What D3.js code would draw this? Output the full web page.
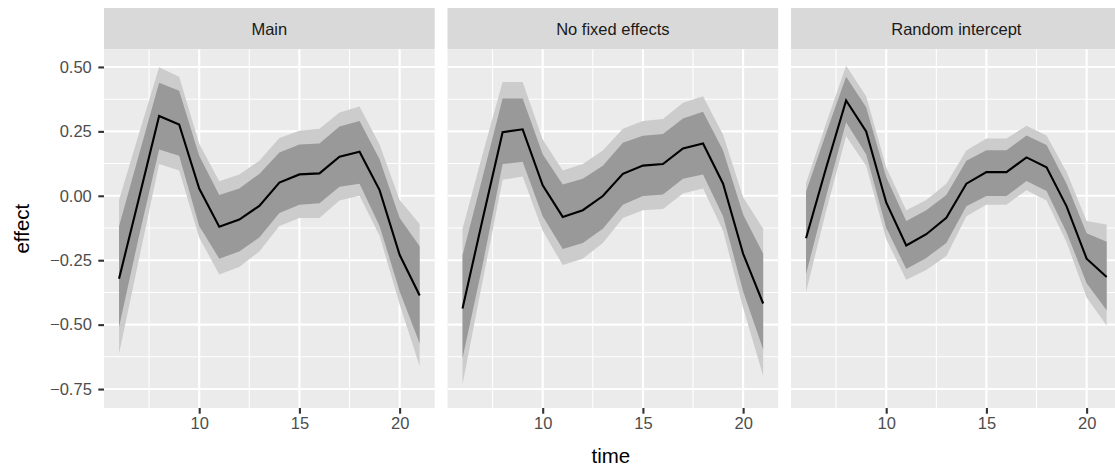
<!DOCTYPE html>
<html>
<head>
<meta charset="utf-8">
<script src="https://cdn.jsdelivr.net/npm/d3@7"></script>
<style>
	body { margin: 0; background: #fff; }
	svg { display: block; overflow: hidden; }
</style>
</head>
<body>
<div id="chart"></div>
<script>
// time points shared by all panels
var times = [6, 7, 8, 9, 10, 11, 12, 13, 14, 15, 16, 17, 18, 19, 20, 21];

var facets = ['Main', 'No fixed effects', 'Random intercept'];

// Main
var mainFit     = [-0.322, -0.008, 0.310, 0.277, 0.028, -0.120, -0.092, -0.039, 0.051, 0.083, 0.087, 0.152, 0.171, 0.022, -0.229, -0.387];
var mainInnerHi = [-0.118, 0.161, 0.439, 0.408, 0.155, 0.003, 0.028, 0.085, 0.168, 0.199, 0.203, 0.269, 0.290, 0.142, -0.086, -0.196];
var mainInnerLo = [-0.509, -0.155, 0.180, 0.155, -0.117, -0.244, -0.216, -0.162, -0.067, -0.035, -0.029, 0.035, 0.047, -0.117, -0.370, -0.573];
var mainOuterHi = [-0.016, 0.243, 0.499, 0.462, 0.202, 0.056, 0.083, 0.136, 0.224, 0.252, 0.260, 0.323, 0.347, 0.199, -0.016, -0.109];
var mainOuterLo = [-0.613, -0.244, 0.123, 0.098, -0.162, -0.305, -0.276, -0.216, -0.117, -0.086, -0.086, -0.018, 0.000, -0.155, -0.421, -0.661];

// No fixed effects
var nfeFit     = [-0.437, -0.092, 0.247, 0.258, 0.041, -0.082, -0.056, -0.001, 0.085, 0.117, 0.123, 0.184, 0.203, 0.047, -0.225, -0.418];
var nfeInnerHi = [-0.231, 0.072, 0.378, 0.378, 0.161, 0.044, 0.066, 0.117, 0.206, 0.233, 0.240, 0.300, 0.326, 0.176, -0.073, -0.225];
var nfeInnerLo = [-0.630, -0.269, 0.123, 0.132, -0.079, -0.206, -0.183, -0.128, -0.035, -0.001, 0.005, 0.066, 0.083, -0.079, -0.370, -0.596];
var nfeOuterHi = [-0.128, 0.161, 0.442, 0.442, 0.218, 0.098, 0.123, 0.176, 0.260, 0.290, 0.298, 0.361, 0.386, 0.237, -0.006, -0.128];
var nfeOuterLo = [-0.731, -0.332, 0.062, 0.075, -0.136, -0.269, -0.244, -0.183, -0.086, -0.056, -0.051, 0.009, 0.028, -0.136, -0.434, -0.699];

// Random intercept
var riFit     = [-0.165, 0.108, 0.370, 0.250, -0.026, -0.193, -0.149, -0.085, 0.047, 0.092, 0.092, 0.149, 0.111, -0.041, -0.244, -0.315];
var riInnerHi = [0.016, 0.243, 0.462, 0.344, 0.073, -0.098, -0.056, 0.003, 0.136, 0.177, 0.177, 0.234, 0.197, 0.047, -0.145, -0.178];
var riInnerLo = [-0.304, -0.003, 0.285, 0.161, -0.124, -0.284, -0.241, -0.183, -0.041, -0.001, -0.001, 0.057, 0.019, -0.142, -0.339, -0.444];
var riOuterHi = [0.050, 0.281, 0.505, 0.386, 0.111, -0.056, -0.016, 0.047, 0.176, 0.222, 0.222, 0.272, 0.234, 0.092, -0.098, -0.111];
var riOuterLo = [-0.373, -0.060, 0.231, 0.117, -0.168, -0.326, -0.288, -0.234, -0.079, -0.035, -0.035, 0.022, -0.018, -0.180, -0.395, -0.503];

var xTicks = [10, 15, 20];
var xMinor = [7.5, 12.5, 17.5];
var yTicks = [-0.75, -0.5, -0.25, 0, 0.25, 0.5];
var yMinor = [-0.625, -0.375, -0.125, 0.125, 0.375];
var yTickLabels = ['\u22120.75', '\u22120.50', '\u22120.25', '0.00', '0.25', '0.50'];

var panelData = [
	{fit: mainFit, innerHi: mainInnerHi, innerLo: mainInnerLo, outerHi: mainOuterHi, outerLo: mainOuterLo},
	{fit: nfeFit,  innerHi: nfeInnerHi,  innerLo: nfeInnerLo,  outerHi: nfeOuterHi,  outerLo: nfeOuterLo},
	{fit: riFit,   innerHi: riInnerHi,   innerLo: riInnerLo,   outerHi: riOuterHi,   outerLo: riOuterLo}
];

function FacetChart(config) {
	var me = this;
	me.width  = config.width;
	me.height = config.height;
	me.parentNode = d3.select('#' + config.parentId);

	// layout
	me.panelLeft  = 104;
	me.panelWidth = 330.7;
	me.panelStep  = 343.5;
	me.stripTop   = 8;
	me.panelTop   = 49.3;
	me.panelBot   = 408;

	me.font      = '"Liberation Sans", Arial, Helvetica, sans-serif';
	me.textSize  = '16.5px';
	me.titleSize = '20.5px';
	me.majorW    = 2.1;
	me.minorW    = 1.05;

	me.svg = me.parentNode.append('svg')
		.attr('width', me.width)
		.attr('height', me.height);

	me.xScale = d3.scaleLinear()
		.domain([5.25, 21.75])
		.range([0, me.panelWidth]);
	me.yScale = d3.scaleLinear()
		.domain([-0.8235, 0.5685])
		.range([me.panelBot, me.panelTop]);

	me.draw();
}

FacetChart.prototype.draw = function() {
	var me = this;
	facets.forEach(function(name, i) {
		me.drawPanel(name, panelData[i], me.panelLeft + i * me.panelStep);
	});
	me.drawYAxis();

	// axis titles
	me.svg.append('text')
		.attr('x', me.panelLeft + (me.panelStep * 2 + me.panelWidth) / 2 - 2)
		.attr('y', 462.5)
		.attr('text-anchor', 'middle')
		.style('font-family', me.font)
		.style('font-size', me.titleSize)
		.attr('fill', '#000')
		.text('time');

	me.svg.append('text')
		.attr('transform', 'translate(29,' + ((me.panelTop + me.panelBot) / 2) + ') rotate(-90)')
		.attr('text-anchor', 'middle')
		.style('font-family', me.font)
		.style('font-size', me.titleSize)
		.attr('fill', '#000')
		.text('effect');
}

FacetChart.prototype.drawPanel = function(name, d, left) {
	var me = this;
	var g = me.svg.append('g')
		.attr('transform', 'translate(' + left + ',0)');

	// strip
	g.append('rect')
		.attr('x', 0).attr('y', me.stripTop)
		.attr('width', me.panelWidth)
		.attr('height', me.panelTop - me.stripTop)
		.attr('fill', '#D9D9D9');
	g.append('text')
		.attr('x', me.panelWidth / 2)
		.attr('y', 34.8)
		.attr('text-anchor', 'middle')
		.style('font-family', me.font)
		.style('font-size', me.textSize)
		.attr('fill', '#1A1A1A')
		.text(name);

	// background
	g.append('rect')
		.attr('x', 0).attr('y', me.panelTop)
		.attr('width', me.panelWidth)
		.attr('height', me.panelBot - me.panelTop)
		.attr('fill', '#EBEBEB');

	// grid
	var grid = g.append('g').attr('class', 'grid');
	grid.selectAll('line.ymin').data(yMinor).enter().append('line')
		.attr('x1', 0).attr('x2', me.panelWidth)
		.attr('y1', function(v) { return me.yScale(v); })
		.attr('y2', function(v) { return me.yScale(v); })
		.attr('stroke', '#fff').attr('stroke-width', me.minorW);
	grid.selectAll('line.xmin').data(xMinor).enter().append('line')
		.attr('y1', me.panelTop).attr('y2', me.panelBot)
		.attr('x1', function(v) { return me.xScale(v); })
		.attr('x2', function(v) { return me.xScale(v); })
		.attr('stroke', '#fff').attr('stroke-width', me.minorW);
	grid.selectAll('line.ymaj').data(yTicks).enter().append('line')
		.attr('x1', 0).attr('x2', me.panelWidth)
		.attr('y1', function(v) { return me.yScale(v); })
		.attr('y2', function(v) { return me.yScale(v); })
		.attr('stroke', '#fff').attr('stroke-width', me.majorW);
	grid.selectAll('line.xmaj').data(xTicks).enter().append('line')
		.attr('y1', me.panelTop).attr('y2', me.panelBot)
		.attr('x1', function(v) { return me.xScale(v); })
		.attr('x2', function(v) { return me.xScale(v); })
		.attr('stroke', '#fff').attr('stroke-width', me.majorW);

	// ribbons
	var band = function(lo, hi) {
		return d3.area()
			.x(function(t) { return me.xScale(t); })
			.y0(function(t, i) { return me.yScale(lo[i]); })
			.y1(function(t, i) { return me.yScale(hi[i]); });
	};
	g.append('path')
		.attr('d', band(d.outerLo, d.outerHi)(times))
		.attr('fill', '#CCCCCC');
	g.append('path')
		.attr('d', band(d.innerLo, d.innerHi)(times))
		.attr('fill', '#999999');

	var line = d3.line()
		.x(function(t) { return me.xScale(t); })
		.y(function(t, i) { return me.yScale(d.fit[i]); });
	g.append('path')
		.attr('d', line(times))
		.attr('fill', 'none')
		.attr('stroke', '#000')
		.attr('stroke-width', 2.1);

	// x axis
	var xAxis = d3.axisBottom(me.xScale)
		.tickValues(xTicks)
		.tickSize(5.7)
		.tickPadding(4);
	var ax = g.append('g')
		.attr('transform', 'translate(0,' + me.panelBot + ')')
		.call(xAxis);
	ax.select('.domain').remove();
	ax.selectAll('.tick line').attr('stroke', '#333333').attr('stroke-width', me.majorW);
	ax.selectAll('.tick text')
		.style('font-family', me.font)
		.style('font-size', me.textSize)
		.attr('fill', '#4D4D4D');
}

FacetChart.prototype.drawYAxis = function() {
	var me = this;
	var yAxis = d3.axisLeft(me.yScale)
		.tickValues(yTicks)
		.tickFormat(function(v, i) { return yTickLabels[i]; })
		.tickSize(5.7)
		.tickPadding(6.5);
	var ay = me.svg.append('g')
		.attr('transform', 'translate(' + me.panelLeft + ',0)')
		.call(yAxis);
	ay.select('.domain').remove();
	ay.selectAll('.tick line').attr('stroke', '#333333').attr('stroke-width', me.majorW);
	ay.selectAll('.tick text')
		.style('font-family', me.font)
		.style('font-size', me.textSize)
		.attr('fill', '#4D4D4D');
}

new FacetChart({parentId: 'chart', width: 1115, height: 468});
</script>
</body>
</html>
